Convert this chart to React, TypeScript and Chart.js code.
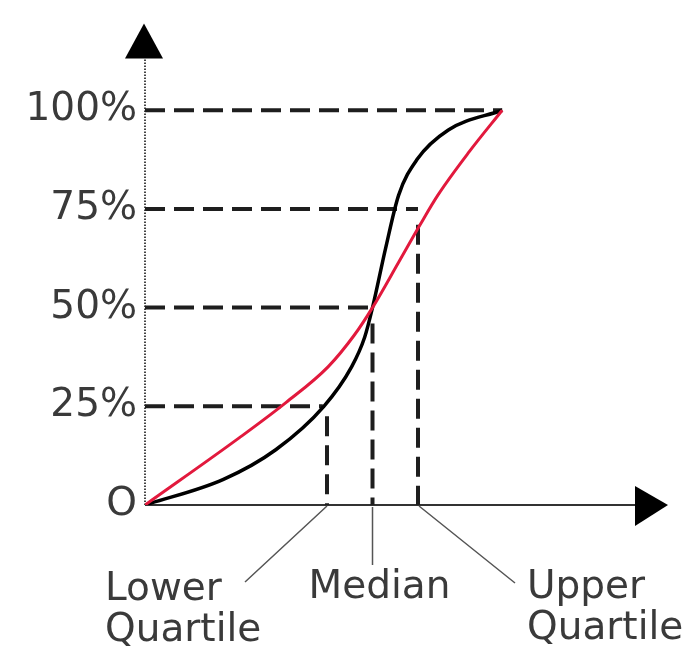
import React, { useEffect, useRef } from "react";
import { Chart, registerables } from "chart.js";

Chart.register(...registerables);

// Cumulative curves (x in arbitrary units, y in %)
const blackX = [0, 1.5, 2.5, 3.42, 3.95, 4.2, 4.35, 4.6, 4.85, 5.2, 5.8, 6.83];
const blackY = [0, 6.5, 14, 25, 35, 42.5, 50, 65, 78.5, 87.5, 95, 100];
const redX = [0, 1.8, 2.7, 3.5, 4.0, 4.35, 4.85, 5.26, 5.6, 6.2, 6.83];
const redY = [0, 17, 26, 35, 43, 50, 61.5, 71, 78.5, 89.5, 100];

// Quartile positions on x axis
const lowerQ = 3.48;
const medianQ = 4.35;
const upperQ = 5.22;
const endX = 6.83;

// Y tick values and labels
const yTicks = [0, 25, 50, 75, 100];
const yTickLabels = ["O", "25%", "50%", "75%", "100%"];

const quartileLabels = [
  ["Lower", "Quartile"],
  ["Median"],
  ["Upper", "Quartile"],
];

const toPts = (xs: number[], ys: number[]) => xs.map((x, i) => ({ x, y: ys[i] }));

export default function App() {
  const ref = useRef<HTMLCanvasElement | null>(null);

  useEffect(() => {
    document.body.style.margin = "0";
    const canvas = ref.current;
    if (!canvas) return;

    const dash = {
      borderColor: "#1e1e1e",
      borderWidth: 4,
      borderDash: [20, 9],
      pointRadius: 0,
      fill: false,
    };

    const overlay = {
      id: "overlay",
      beforeDatasetsDraw(chart: any) {
        const { ctx, chartArea, scales } = chart;
        const x0 = scales.x.getPixelForValue(0);
        const y0 = scales.y.getPixelForValue(0);
        ctx.save();
        // y axis (dotted)
        ctx.strokeStyle = "#444";
        ctx.lineWidth = 2;
        ctx.setLineDash([1.5, 1.5]);
        ctx.beginPath();
        ctx.moveTo(x0, y0);
        ctx.lineTo(x0, chartArea.top + 30);
        ctx.stroke();
        ctx.setLineDash([]);
        // x axis
        ctx.strokeStyle = "#333";
        ctx.beginPath();
        ctx.moveTo(x0, y0);
        ctx.lineTo(chartArea.right - 30, y0);
        ctx.stroke();
        // arrow heads
        ctx.fillStyle = "#000";
        ctx.beginPath();
        ctx.moveTo(x0 - 1, chartArea.top);
        ctx.lineTo(x0 - 20, chartArea.top + 35);
        ctx.lineTo(x0 + 18, chartArea.top + 35);
        ctx.closePath();
        ctx.fill();
        ctx.beginPath();
        ctx.moveTo(chartArea.right, y0);
        ctx.lineTo(chartArea.right - 33, y0 - 19);
        ctx.lineTo(chartArea.right - 33, y0 + 21);
        ctx.closePath();
        ctx.fill();

        // leader lines
        const lq = scales.x.getPixelForValue(lowerQ);
        const md = scales.x.getPixelForValue(medianQ);
        const uq = scales.x.getPixelForValue(upperQ);
        ctx.strokeStyle = "#555";
        ctx.lineWidth = 1.5;
        ctx.beginPath();
        ctx.moveTo(lq, y0 + 1);
        ctx.lineTo(lq - 82, y0 + 77);
        ctx.moveTo(md, y0 + 2);
        ctx.lineTo(md, y0 + 60);
        ctx.moveTo(uq + 1, y0 + 1);
        ctx.lineTo(uq + 97, y0 + 78);
        ctx.stroke();

        // labels
        ctx.fillStyle = "#3a3a3a";
        ctx.font = "39px 'DejaVu Sans', Verdana, sans-serif";
        ctx.textBaseline = "alphabetic";
        ctx.textAlign = "left";
        quartileLabels[0].forEach((t, i) => ctx.fillText(t, lq - 222, y0 + 95 + i * 41));
        ctx.textAlign = "center";
        quartileLabels[1].forEach((t, i) => ctx.fillText(t, md + 7, y0 + 93 + i * 41));
        ctx.textAlign = "left";
        quartileLabels[2].forEach((t, i) => ctx.fillText(t, uq + 109, y0 + 93 + i * 41));
        ctx.restore();
      },
    };

    const chart = new Chart(canvas, {
      type: "line",
      data: {
        datasets: [
          {
            data: toPts(redX, redY),
            borderColor: "#e2193d",
            borderWidth: 3,
            pointRadius: 0,
            cubicInterpolationMode: "monotone",
            fill: false,
          },
          {
            data: toPts(blackX, blackY),
            borderColor: "#000",
            borderWidth: 3.5,
            pointRadius: 0,
            cubicInterpolationMode: "monotone",
            fill: false,
          },
          { ...dash, data: [{ x: 0, y: 100 }, { x: endX, y: 100 }] },
          { ...dash, data: [{ x: 0, y: 75 }, { x: upperQ, y: 75 }] },
          { ...dash, data: [{ x: upperQ, y: 71 }, { x: upperQ, y: 0 }] },
          { ...dash, data: [{ x: 0, y: 50 }, { x: medianQ, y: 50 }] },
          { ...dash, data: [{ x: medianQ, y: 46 }, { x: medianQ, y: 0 }] },
          { ...dash, data: [{ x: 0, y: 25 }, { x: lowerQ - 0.08, y: 25 }] },
          { ...dash, data: [{ x: lowerQ, y: 22.5 }, { x: lowerQ, y: 0 }] },
        ] as any,
      },
      plugins: [overlay],
      options: {
        animation: false,
        responsive: false,
        layout: { padding: { top: 17, right: 32, bottom: 144, left: 0 } },
        plugins: { legend: { display: false }, tooltip: { enabled: false } },
        scales: {
          x: {
            type: "linear",
            min: 0,
            max: 10,
            display: false,
          },
          y: {
            type: "linear",
            min: 0,
            max: 122,
            grid: { display: false },
            border: { display: false },
            afterBuildTicks: (scale: any) => {
              scale.ticks = yTicks.map((v) => ({ value: v }));
            },
            afterFit: (scale: any) => {
              scale.width = 145;
            },
            ticks: {
              padding: 0,
              color: "#3a3a3a",
              font: { family: "'DejaVu Sans', Verdana, sans-serif", size: 39 },
              callback: (v: any) => {
                const i = yTicks.indexOf(Number(v));
                return i >= 0 ? yTickLabels[i] : "";
              },
            },
          },
        },
      } as any,
    });
    return () => chart.destroy();
  }, []);

  return (
    <div style={{ width: 700, height: 649 }}>
      <canvas ref={ref} width={700} height={649} style={{ display: "block" }} />
    </div>
  );
}
